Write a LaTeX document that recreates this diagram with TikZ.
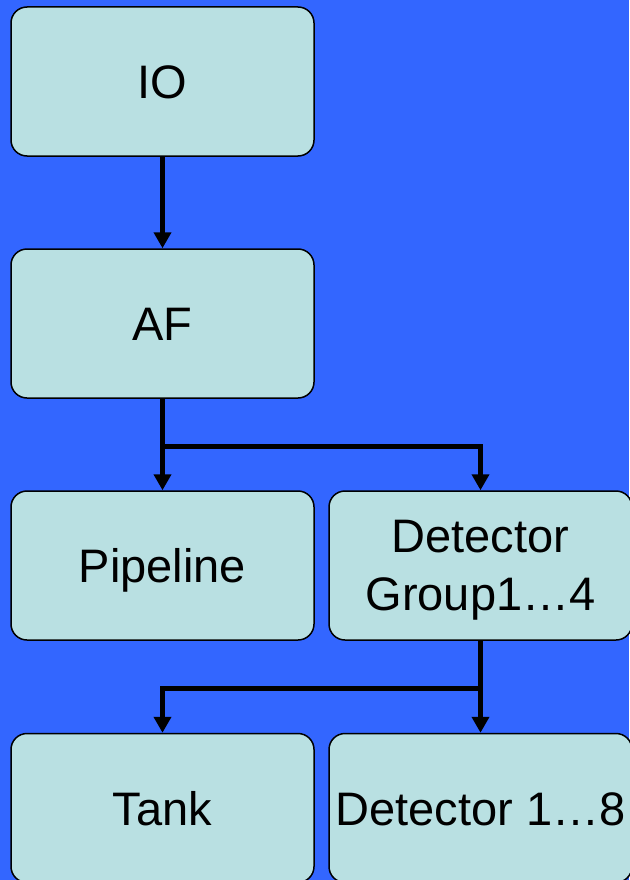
\documentclass[tikz,border=0pt]{standalone}
\usepackage{fontspec}
\setmainfont{Liberation Sans}
\usetikzlibrary{arrows.meta}
\definecolor{bgblue}{HTML}{3366FF}
\definecolor{boxfill}{HTML}{B9E0E2}
\tikzset{
  unitbox/.style={draw=black, line width=1.5pt, fill=boxfill, rounded corners=16pt,
    minimum width=303pt, minimum height=149pt, inner sep=0pt, align=center,
    font=\fontsize{47}{58}\selectfont},
  oneline/.style={text height=34pt, text depth=0pt},
  link/.style={line width=5pt, -{Triangle[width=17pt,length=16pt]}}
}
\begin{document}
\begin{tikzpicture}[x=1pt,y=-1pt]
  \fill[bgblue] (0,0) rectangle (629,880);
  \useasboundingbox (0,0) rectangle (629,880);

  \node[unitbox,oneline] (io)   at (162.5, 81.5)  {IO};
  \node[unitbox,oneline] (af)   at (162.5, 323.5) {AF};
  \node[unitbox,oneline] (pipe) at (162.5, 565.5) {Pipeline};
  \node[unitbox, text depth=0pt] (dg) at (480.5, 565.5) {Detector\\Group1…4};
  \node[unitbox,oneline] (tank) at (162.5, 808)   {Tank};
  \node[unitbox,oneline] (det)  at (480.5, 808)   {Detector 1…8};

  \coordinate (split1) at (162.5, 446);
  \coordinate (split2) at (480.5, 688);

  \draw[link] (io.south) -- (af.north);
  \draw[link] (af.south) -- (pipe.north);
  \draw[link] (split1) -| (dg.north);
  \draw[link] (dg.south) -- (det.north);
  \draw[link] (split2) -| (tank.north);
\end{tikzpicture}
\end{document}
